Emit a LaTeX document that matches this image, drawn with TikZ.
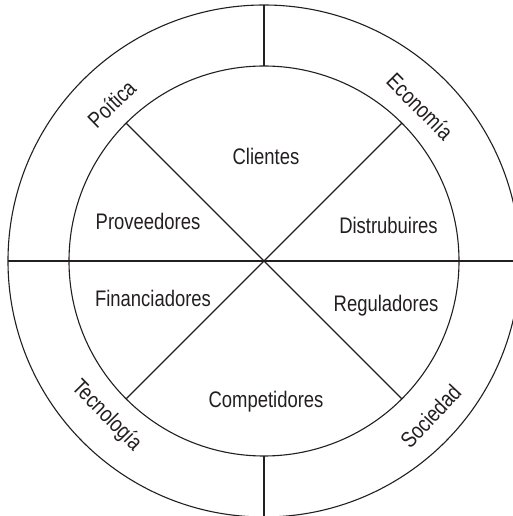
\documentclass[tikz,border=0pt]{standalone}
\usepackage{fontspec}
\setmainfont{Liberation Sans}[FakeStretch=0.82]
\definecolor{ink}{HTML}{231F20}
\begin{document}
\begin{tikzpicture}[x=1pt,y=1pt,
  ln/.style={draw=ink,line width=1.1pt},
  lbl/.style={text=ink,font=\fontsize{22.5}{26}\selectfont,inner sep=0pt},
  rlbl/.style={text=ink,font=\fontsize{22.5}{26}\selectfont,inner sep=0pt,anchor=center}]
\useasboundingbox (-264,-255) rectangle (249,261);
\coordinate (c) at (0,0);
% circles
\draw[ln] (c) circle[radius=256];
\draw[ln] (c) circle[radius=195];
% lines
\coordinate (hl) at (180:256);
\coordinate (hr) at (0:256);
\coordinate (vt1) at (90:195);
\coordinate (vt2) at (90:256);
\coordinate (vb1) at (-90:195);
\coordinate (vb2) at (-90:256);
\coordinate (d1a) at (135:195);
\coordinate (d1b) at (-45:195);
\coordinate (d2a) at (45:195);
\coordinate (d2b) at (225:195);
\draw[ln] (hl) -- (hr);
\draw[ln] (vt1) -- (vt2);
\draw[ln] (vb1) -- (vb2);
\draw[ln] (d1a) -- (d1b);
\draw[ln] (d2a) -- (d2b);
% inner labels
\node[lbl,anchor=base] (cli) at (2,96) {Clientes};
\node[lbl,anchor=base] (pro) at (-116,31) {Proveedores};
\node[lbl,anchor=base] (dis) at (124.5,27) {Distrubuires};
\node[lbl,anchor=base] (fin) at (-111,-45.7) {Financiadores};
\node[lbl,anchor=base] (reg) at (122,-50.7) {Reguladores};
\node[lbl,anchor=base] (com) at (2,-146.3) {Competidores};
% outer labels
\node[rlbl,rotate=44] (pol) at (134.1:219) {Poítica};
\node[rlbl,rotate=-45.3] (eco) at (44.7:219.6) {Economía};
\node[rlbl,rotate=-45.5] (tec) at (224.5:221) {Tecnología};
\node[rlbl,rotate=47] (soc) at (-43:227.8) {Sociedad};
\end{tikzpicture}
\end{document}
